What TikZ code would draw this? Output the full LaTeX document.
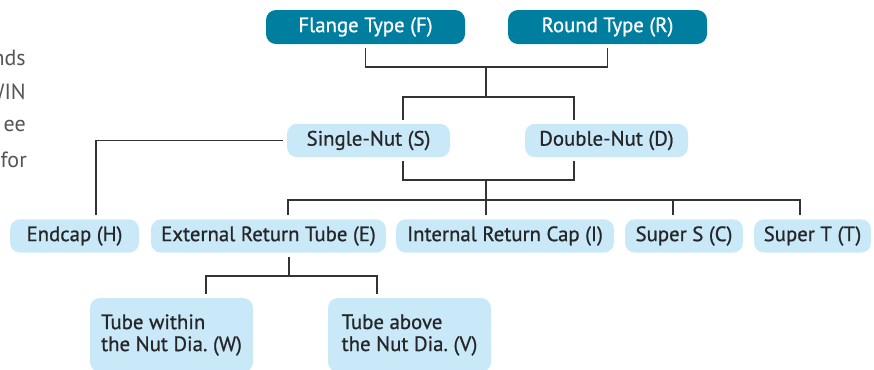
\documentclass[tikz,border=0pt]{standalone}
\usepackage{fontspec}
\setmainfont{PT Sans}
\newfontfamily\boxfont[FakeBold=0.8]{PT Sans}
\usetikzlibrary{calc}

\definecolor{typeblue}{RGB}{0,126,160}
\definecolor{optblue}{RGB}{201,233,248}
\definecolor{optdark}{RGB}{38,38,40}
\definecolor{linegray}{RGB}{51,51,51}
\definecolor{sidegray}{RGB}{85,85,85}

\tikzset{
  typebox/.style={fill=typeblue, text=white, rounded corners=7.5pt, inner sep=0pt, outer sep=3pt,
    minimum width=149.25pt, minimum height=25.5pt, font=\boxfont\fontsize{15.6}{16.5}\selectfont},
  optbox/.style={fill=optblue, text=optdark, rounded corners=7.5pt, inner sep=0pt, outer sep=3pt,
    minimum height=25pt, font=\boxfont\fontsize{15.6}{16.5}\selectfont},
  tubebox/.style={optbox, align=left, minimum width=122.25pt, minimum height=55.5pt},
  link/.style={draw=linegray, line width=1pt},
  sidetext/.style={text=sidegray, anchor=east, inner sep=0pt, font=\fontsize{16.5}{18}\selectfont},
}

\begin{document}
\frenchspacing
\begin{tikzpicture}[x=0.75pt,y=0.75pt,yscale=-1,xscale=1]
\useasboundingbox (0,0) rectangle (874,369);
\clip (0,0) rectangle (874,369);

% cut-off paragraph on the left
\node[sidetext] (p1) at (26,58) {nds};
\node[sidetext] (p2) at (26,92) {WIN};
\node[sidetext] (p3) at (26,126) {ee};
\node[sidetext] (p4) at (27,160) {for};

% body types
\node[typebox] (F) at (365.5,27) {Flange Type (F)};
\node[typebox] (R) at (607.5,27) {Round Type (R)};

% nut types
\node[optbox, minimum width=122.25pt] (S) at (368.5,140.5) {Single-Nut (S)};
\node[optbox, minimum width=122.25pt] (D) at (606.5,140.5) {Double-Nut (D)};

% return types
\node[optbox, minimum width=96.75pt] (H) at (74.5,236) {Endcap (H)};
\node[optbox, minimum width=176.25pt] (E) at (268.5,236) {External Return Tube (E)};
\node[optbox, minimum width=163.5pt] (I) at (505,236) {Internal Return Cap (I)};
\node[optbox, minimum width=88.5pt] (C) at (684,236) {Super S (C)};
\node[optbox, minimum width=87.75pt] (T) at (812.5,236) {Super T (T)};

% tube positions
\node[tubebox] (W) at (171.5,335) {Tube within\\the Nut Dia. (W)};
\node[tubebox] (V) at (409.5,335) {Tube above\\the Nut Dia. (V)};

% junctions
\coordinate (j1) at (486,67);
\coordinate (j2) at (486,97);
\coordinate (j3) at (486,180);
\coordinate (j4) at (486,200);
\coordinate (j5) at (289,276);

% connectors
\draw[link] (F.south) |- (j1) -| (R.south);
\draw[link] (j1) -- (j2);
\draw[link] ([xshift=25.9pt]S.north) |- (j2) -| ([xshift=-24.4pt]D.north);
\draw[link] (S.west) -| ([xshift=16.1pt]H.north);
\draw[link] ([xshift=25.9pt]S.south) |- (j3) -| ([xshift=-24.4pt]D.south);
\draw[link] (j3) -- (j4);
\draw[link] ([xshift=14.6pt]E.north) |- (j4) -| ([xshift=-9.4pt]T.north);
\draw[link] (j4) -- (j4 |- I.north);
\draw[link] ([xshift=-8.25pt]C.north) -- ([xshift=-8.25pt]C.north |- j4);
\draw[link] (j5 |- E.south) -- (j5);
\draw[link] ([xshift=25.9pt]W.north) |- (j5) -| ([xshift=-24.4pt]V.north);

\end{tikzpicture}
\end{document}
